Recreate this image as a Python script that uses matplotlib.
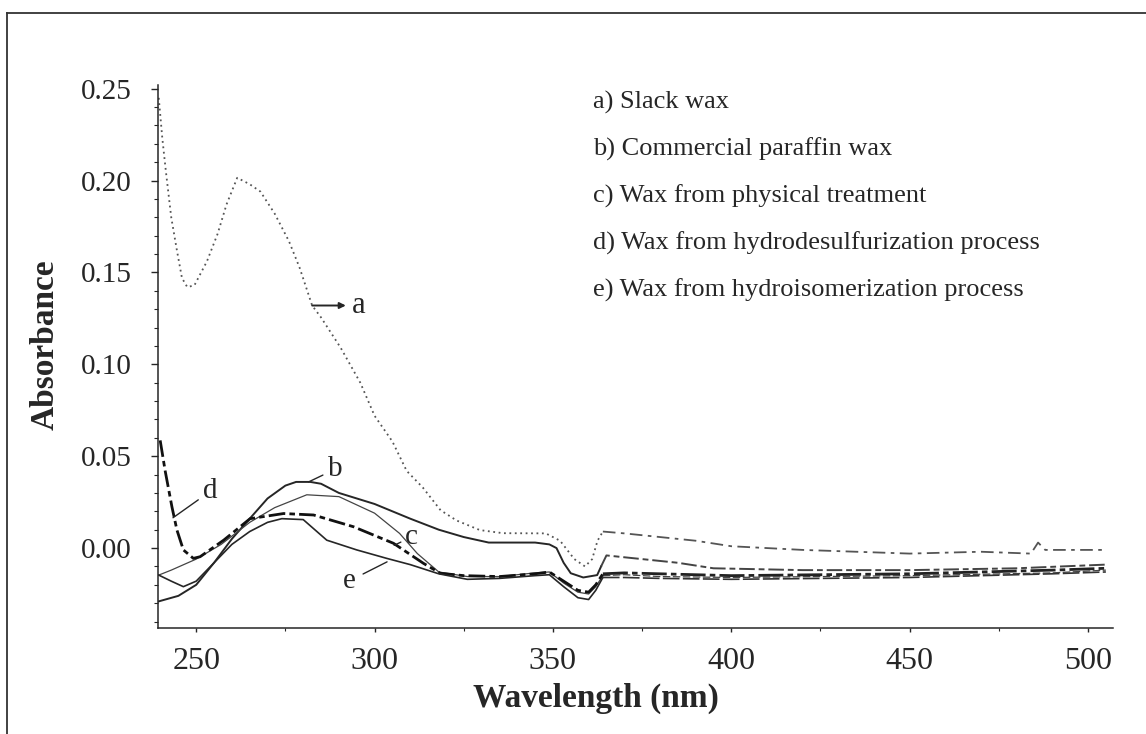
import matplotlib
matplotlib.use("Agg")
import matplotlib.pyplot as plt
from matplotlib.lines import Line2D
from matplotlib.ticker import MultipleLocator

plt.rcParams['font.family'] = ['Liberation Serif', 'DejaVu Serif']

# a) slack wax
wl_a = [239.5, 240.5, 241.5, 243, 244.5, 246, 247.5, 249.5, 253, 256, 258.5, 261.5, 265, 268, 272, 276, 279,
        282.5, 285, 290.5, 296, 300, 305, 309, 313.5, 318.5, 323, 329.5, 336, 348, 352, 356, 359, 361, 362.5,
        364, 370, 380, 390, 400, 420, 450, 470, 484, 486, 488, 500, 505]
abs_a = [0.245, 0.223, 0.205, 0.180, 0.163, 0.147, 0.142, 0.143, 0.156, 0.171, 0.187, 0.2015, 0.198, 0.194,
         0.182, 0.167, 0.1525, 0.132, 0.1255, 0.109, 0.090, 0.072, 0.058, 0.042, 0.033, 0.0206, 0.015, 0.0098,
         0.0081, 0.008, 0.004, -0.006, -0.010, -0.006, 0.004, 0.009, 0.008, 0.006, 0.004, 0.001, -0.001, -0.003,
         -0.002, -0.003, 0.003, -0.001, -0.001, -0.001]

# b) commercial paraffin wax
wl_b = [239.5, 245, 250, 255, 260, 265, 270, 275, 278, 282, 285, 290, 300, 310, 318, 325, 332, 345, 349, 351,
        353, 355, 358.5, 362.4, 363.5, 365, 375, 385, 395, 420, 450, 480, 505]
abs_b = [-0.029, -0.026, -0.020, -0.008, 0.005, 0.016, 0.027, 0.034, 0.036, 0.036, 0.035, 0.030, 0.024, 0.016,
         0.010, 0.006, 0.003, 0.003, 0.002, 0.0, -0.008, -0.0137, -0.016, -0.0147, -0.010, -0.004, -0.006,
         -0.008, -0.011, -0.012, -0.012, -0.011, -0.009]

# c) wax from physical treatment
wl_c = [239.5, 243, 250, 257, 265, 272, 281, 290, 300, 307, 312, 318, 326, 335, 345, 349, 353, 357, 360, 362,
        364, 370, 380, 400, 450, 490, 505]
abs_c = [-0.0147, -0.012, -0.006, 0.002, 0.014, 0.022, 0.029, 0.028, 0.019, 0.008, -0.003, -0.013, -0.0155,
         -0.0155, -0.0135, -0.013, -0.019, -0.024, -0.025, -0.021, -0.015, -0.0145, -0.0155, -0.016, -0.015,
         -0.0135, -0.012]

# d) wax from hydrodesulfurization process
wl_d = [239.9, 241.3, 243.2, 244.6, 246.4, 249.2, 251.1, 257.7, 265.1, 274.5, 282.9, 294.1, 305.3, 313.7,
        318.4, 325, 335, 345, 349, 353, 357, 360, 362, 364, 370, 380, 400, 450, 490, 505]
abs_d = [0.0586, 0.042, 0.0224, 0.0098, -0.001, -0.0056, -0.0047, 0.0043, 0.016, 0.0188, 0.018, 0.0116,
         0.0026, -0.0083, -0.0137, -0.015, -0.0155, -0.014, -0.013, -0.018, -0.023, -0.024, -0.020, -0.014,
         -0.0135, -0.014, -0.015, -0.014, -0.012, -0.011]

# e) wax from hydroisomerization process
wl_e = [239.5, 243, 246.4, 250, 255, 260, 265, 270, 274, 280, 286.6, 295, 303.4, 310, 318, 326, 335, 345,
        349, 353, 357, 360, 362, 364, 370, 380, 400, 450, 490, 505]
abs_e = [-0.0147, -0.018, -0.021, -0.018, -0.008, 0.002, 0.009, 0.014, 0.016, 0.0155, 0.0043, -0.001, -0.0056,
         -0.009, -0.014, -0.017, -0.0165, -0.015, -0.0145, -0.021, -0.027, -0.028, -0.023, -0.016, -0.016,
         -0.0165, -0.017, -0.016, -0.014, -0.013]

legend_lines = ["a) Slack wax", "b) Commercial paraffin wax", "c) Wax from physical treatment",
                "d) Wax from hydrodesulfurization process", "e) Wax from hydroisomerization process"]

ink = '#262626'
tail_start = 363  # the scan gets broken/dashed past the dip


def plot_curve(ax, wl, ab, color, lw, ls, tail_color, tail_ls):
    head = [i for i, w in enumerate(wl) if w <= tail_start + 1]
    k = head[-1] + 1
    ax.plot(wl[:k], ab[:k], color=color, lw=lw, linestyle=ls)
    ax.plot(wl[k - 1:], ab[k - 1:], color=tail_color, lw=lw, linestyle=tail_ls)


fig = plt.figure(figsize=(11.46, 7.34), dpi=100)
ax = fig.add_axes([0.1379, 0.1444, 0.8333, 0.7398])

plot_curve(ax, wl_a, abs_a, '#555555', 1.3, (0, (1, 2)), '#555555', (0, (7, 3, 2, 3)))
plot_curve(ax, wl_b, abs_b, ink, 1.4, '-', '#444444', (0, (8, 2, 3, 2)))
plot_curve(ax, wl_c, abs_c, '#444444', 0.9, '-', '#444444', (0, (6, 2)))
plot_curve(ax, wl_d, abs_d, '#111111', 2.0, (0, (6, 1.5, 2, 1.5)), '#222222', (0, (9, 1.5, 2, 1.5)))
plot_curve(ax, wl_e, abs_e, ink, 1.2, '-', '#333333', (0, (10, 2)))

ax.set_xlim(239.3, 507)
ax.set_ylim(-0.0435, 0.252)
ax.set_xticks([250, 300, 350, 400, 450, 500])
ax.set_yticks([0.0, 0.05, 0.10, 0.15, 0.20, 0.25])
ax.set_yticklabels(["0.00", "0.05", "0.10", "0.15", "0.20", "0.25"])
ax.xaxis.set_minor_locator(MultipleLocator(25))
ax.yaxis.set_minor_locator(MultipleLocator(0.01))
ax.tick_params(axis='y', which='major', labelsize=21, length=5, width=1, pad=14, colors=ink)
ax.tick_params(axis='y', which='minor', length=3, width=0.8, colors=ink)
ax.tick_params(axis='x', which='major', labelsize=23, length=3, width=1, pad=11, colors=ink)
ax.tick_params(axis='x', which='minor', length=2, width=0.8, colors=ink)
for s in ['top', 'right']:
    ax.spines[s].set_visible(False)
for s in ['left', 'bottom']:
    ax.spines[s].set_color(ink)
    ax.spines[s].set_linewidth(1.1)

fig.text(0.039, 0.53, "Absorbance", rotation=90, ha='center', va='center',
         fontsize=24, fontweight='bold', color=ink)
fig.text(0.52, 0.049, "Wavelength (nm)", ha='center', va='center',
         fontsize=24, fontweight='bold', color=ink)

# curve labels
ax.annotate("a", xy=(282.5, 0.132), xytext=(293.5, 0.132), fontsize=22, va='center', color=ink,
            arrowprops=dict(arrowstyle='<|-', color=ink, lw=1.4, mutation_scale=9, shrinkA=2, shrinkB=0))
ax.annotate("b", xy=(281.5, 0.036), xytext=(287, 0.043), fontsize=21, va='center', color=ink,
            arrowprops=dict(arrowstyle='-', color=ink, lw=1, shrinkA=2, shrinkB=0))
ax.annotate("d", xy=(243.5, 0.0165), xytext=(252, 0.031), fontsize=21, va='center', color=ink,
            arrowprops=dict(arrowstyle='-', color=ink, lw=1, shrinkA=2, shrinkB=0))
ax.annotate("c", xy=(305.5, 0.0015), xytext=(308.5, 0.006), fontsize=21, va='center', color=ink,
            arrowprops=dict(arrowstyle='-', color=ink, lw=1, shrinkA=1, shrinkB=0))
ax.annotate("e", xy=(303.5, -0.0075), xytext=(291, -0.018), fontsize=21, va='center', color=ink,
            arrowprops=dict(arrowstyle='-', color=ink, lw=1, shrinkA=4, shrinkB=0))

for i, t in enumerate(legend_lines):
    fig.text(0.5175, 1 - (102 + 47 * i) / 734, t, fontsize=19, va='center', ha='left', color=ink)

# outer frame of the scanned figure
fig.add_artist(Line2D([0.0061, 1.0], [0.9823, 0.9823], color='#333333', lw=1.3))
fig.add_artist(Line2D([0.0061, 0.0061], [0.0, 0.9823], color='#333333', lw=1.3))

fig.savefig("out.png", dpi=100)
